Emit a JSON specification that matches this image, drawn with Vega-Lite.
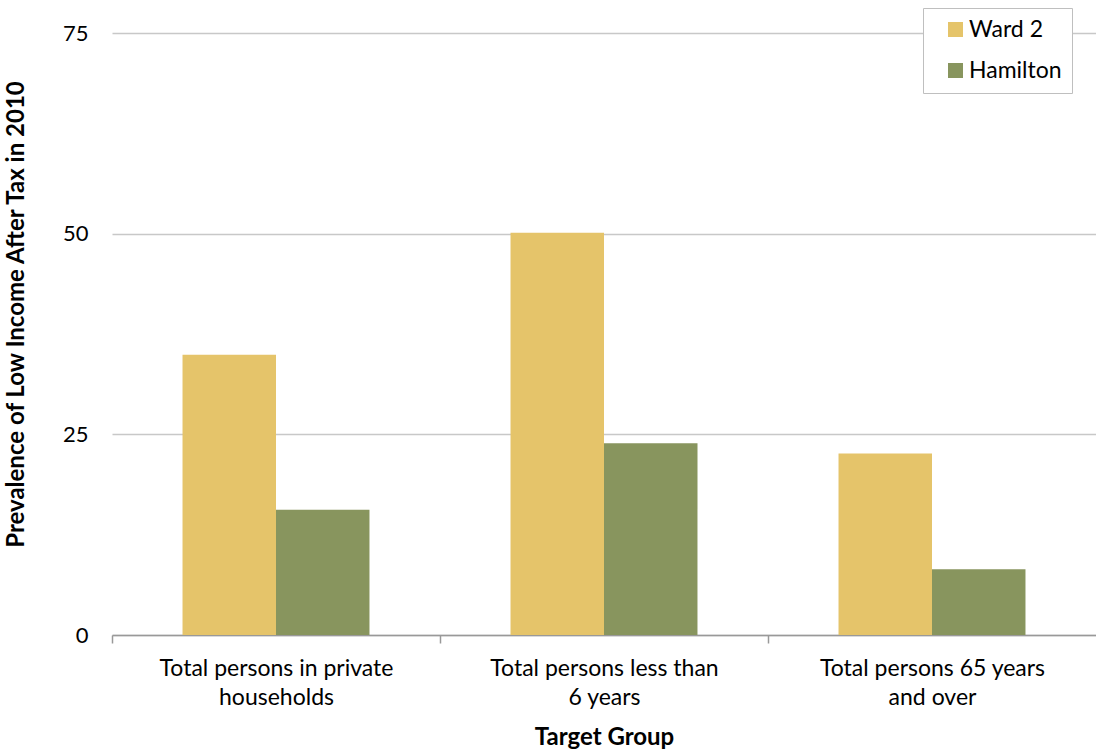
{
  "$schema": "https://vega.github.io/schema/vega-lite/v6.json",
  "autosize": "none",
  "width": 984,
  "height": 602,
  "padding": {"left": 112, "top": 33, "right": 0, "bottom": 119},
  "background": "white",
  "config": {
    "view": {"stroke": null},
    "font": "Lato",
    "axis": {"labelFont": "Lato", "titleFont": "Lato"}
  },
  "data": {
    "values": [
      {"group": "Total persons in private households", "series": "Ward 2", "value": 34.9},
      {"group": "Total persons in private households", "series": "Hamilton", "value": 15.6},
      {"group": "Total persons less than 6 years", "series": "Ward 2", "value": 50.1},
      {"group": "Total persons less than 6 years", "series": "Hamilton", "value": 23.9},
      {"group": "Total persons 65 years and over", "series": "Ward 2", "value": 22.6},
      {"group": "Total persons 65 years and over", "series": "Hamilton", "value": 8.2}
    ]
  },
  "mark": {"type": "bar"},
  "encoding": {
    "x": {
      "field": "group",
      "type": "nominal",
      "sort": ["Total persons in private households", "Total persons less than 6 years", "Total persons 65 years and over"],
      "scale": {"paddingInner": 0.43, "paddingOuter": 0.215},
      "axis": {
        "title": "Target Group",
        "titleFontSize": 24,
        "titleFontWeight": "bold",
        "titleColor": "black",
        "titlePadding": 16,
        "labelAngle": 0,
        "labelFontSize": 23,
        "labelColor": "black",
        "labelPadding": 14,
        "labelLineHeight": 29,
        "labelLimit": 0,
        "labelOffset": 164,
        "labelExpr": "datum.value == 'Total persons in private households' ? ['Total persons in private', 'households'] : datum.value == 'Total persons less than 6 years' ? ['Total persons less than', '6 years'] : ['Total persons 65 years', 'and over']",
        "ticks": true,
        "tickOffset": -164,
        "tickSize": 8,
        "tickWidth": 1.5,
        "tickColor": "#999999",
        "domainColor": "#999999",
        "domainWidth": 1.3,
        "grid": false
      }
    },
    "xOffset": {"field": "series", "type": "nominal", "sort": ["Ward 2", "Hamilton"], "scale": {"paddingInner": 0, "paddingOuter": 0}},
    "y": {
      "field": "value",
      "type": "quantitative",
      "scale": {"domain": [0, 75]},
      "axis": {
        "title": "Prevalence of Low Income After Tax in 2010",
        "titleFontSize": 24,
        "titleFontWeight": "bold",
        "titleColor": "black",
        "titlePadding": 34,
        "titleY": 281,
        "values": [0, 25, 50, 75],
        "labelFontSize": 22,
        "labelColor": "black",
        "labelPadding": 24,
        "tickSize": 0,
        "domain": false,
        "gridColor": "#C8C8C8",
        "gridWidth": 1.3
      }
    },
    "color": {
      "field": "series",
      "type": "nominal",
      "sort": ["Ward 2", "Hamilton"],
      "scale": {"domain": ["Ward 2", "Hamilton"], "range": ["#E5C46A", "#88955E"]},
      "legend": {
        "title": null,
        "orient": "none",
        "legendX": 811,
        "legendY": -25,
        "fillColor": "white",
        "strokeColor": "#BFBFBF",
        "padding": 10,
        "symbolType": "square",
        "symbolSize": 225,
        "symbolStrokeWidth": 0,
        "symbolOpacity": 1,
        "labelFontSize": 23,
        "labelColor": "black",
        "labelFont": "Lato",
        "rowPadding": 17,
        "labelOffset": 2,
        "symbolOffset": 11
      }
    }
  }
}
